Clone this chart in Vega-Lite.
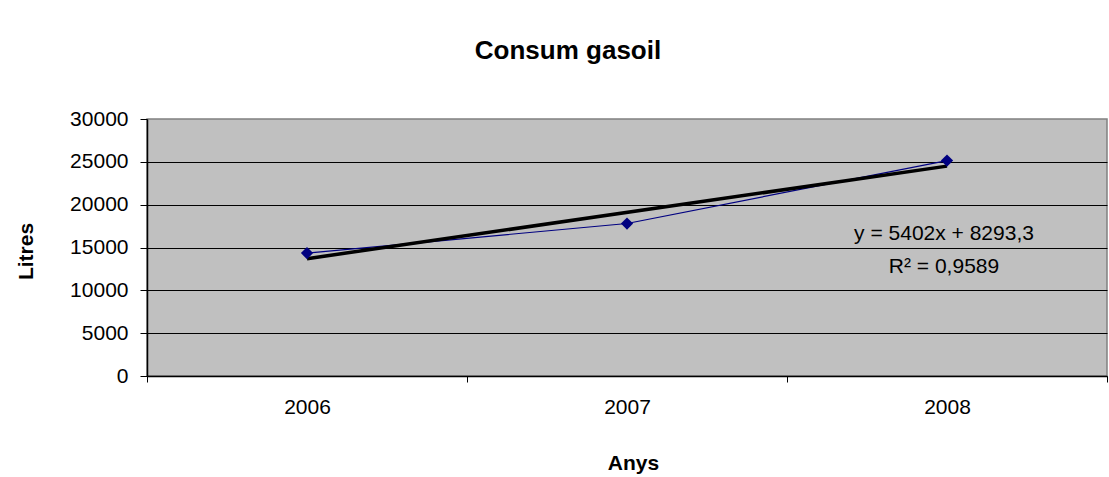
{
  "$schema": "https://vega.github.io/schema/vega-lite/v6.json",
  "width": 960,
  "height": 257,
  "autosize": {"type": "none"},
  "padding": {"left": 147, "top": 119, "right": 2, "bottom": 101},
  "background": "white",
  "config": {
    "font": "Liberation Sans",
    "view": {"fill": "#C0C0C0", "stroke": "#808080", "strokeWidth": 1.5}
  },
  "title": {
    "text": "Consum gasoil",
    "font": "Liberation Sans",
    "fontSize": 26,
    "fontWeight": "bold",
    "color": "black",
    "anchor": "middle",
    "frame": "group",
    "baseline": "alphabetic",
    "offset": 23,
    "dx": -59
  },
  "datasets": {
    "consum": [
      {"year": 2006, "litres": 14350},
      {"year": 2007, "litres": 17800},
      {"year": 2008, "litres": 25150}
    ],
    "trend": [
      {"year": 2006, "litres": 13695.3},
      {"year": 2008, "litres": 24499.3}
    ],
    "eq": [
      {"year": 2008, "litres": 15875, "label": "y = 5402x + 8293,3"},
      {"year": 2008, "litres": 12023, "label": "R² = 0,9589"}
    ]
  },
  "layer": [
    {
      "data": {"name": "consum"},
      "mark": {"type": "line", "color": "#000080", "strokeWidth": 1.2},
      "encoding": {
        "x": {
          "field": "year",
          "type": "quantitative",
          "scale": {"domain": [2005.5, 2008.5], "nice": false, "zero": false},
          "axis": {
            "title": "Anys",
            "values": [2005.5, 2006, 2006.5, 2007, 2007.5, 2008, 2008.5],
            "labelExpr": "datum.value % 1 === 0 ? toString(datum.value) : ''",
            "tickOpacity": {"condition": {"test": "datum.value % 1 === 0", "value": 0}, "value": 1},
            "grid": false,
            "tickSize": 6,
            "tickColor": "black",
            "domainColor": "black",
            "domainWidth": 1.5,
            "labelFontSize": 21,
            "labelColor": "black",
            "labelPadding": 14,
            "labelFlush": false,
            "labelOverlap": false,
            "titleFontSize": 21,
            "titleFontWeight": "bold",
            "titleColor": "black",
            "titlePadding": 35,
            "titleX": 486
          }
        },
        "y": {
          "field": "litres",
          "type": "quantitative",
          "scale": {"domain": [0, 30000], "nice": false},
          "axis": {
            "title": "Litres",
            "values": [0, 5000, 10000, 15000, 20000, 25000, 30000],
            "format": "d",
            "grid": true,
            "gridColor": "black",
            "gridWidth": 1,
            "gridOpacity": {"condition": {"test": "datum.value === 30000", "value": 0}, "value": 1},
            "tickSize": 7,
            "tickColor": "black",
            "domainColor": "black",
            "domainWidth": 1.5,
            "labelFontSize": 21,
            "labelColor": "black",
            "labelPadding": 12,
            "titleFontSize": 21,
            "titleFontWeight": "bold",
            "titleColor": "black",
            "titlePadding": 33,
            "titleY": 132
          }
        }
      }
    },
    {
      "data": {"name": "trend"},
      "mark": {"type": "line", "color": "black", "strokeWidth": 3.5},
      "encoding": {
        "x": {"field": "year", "type": "quantitative"},
        "y": {"field": "litres", "type": "quantitative"}
      }
    },
    {
      "data": {"name": "consum"},
      "mark": {"type": "point", "shape": "diamond", "filled": true, "color": "#000080", "opacity": 1, "size": 150},
      "encoding": {
        "x": {"field": "year", "type": "quantitative"},
        "y": {"field": "litres", "type": "quantitative"}
      }
    },
    {
      "data": {"name": "eq"},
      "mark": {"type": "text", "fontSize": 21, "color": "black", "align": "center", "baseline": "alphabetic", "dx": -3},
      "encoding": {
        "x": {"field": "year", "type": "quantitative"},
        "y": {"field": "litres", "type": "quantitative"},
        "text": {"field": "label", "type": "nominal"}
      }
    }
  ]
}
